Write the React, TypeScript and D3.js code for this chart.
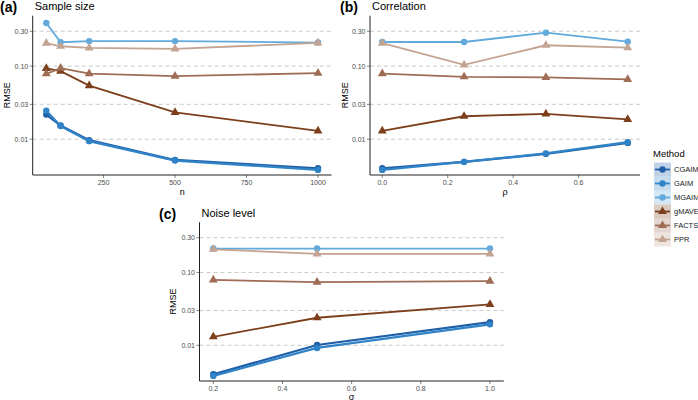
import * as d3 from "d3"

// methods and colours
const methods = ["CGAIM", "GAIM", "MGAIM", "gMAVE", "FACTS", "PPR"]
const colors = ["#1f5fa8", "#3083c6", "#62aadb", "#7d3f1b", "#9f6c55", "#c3a392"]
const shapes = ["circle", "circle", "circle", "triangle", "triangle", "triangle"]

// (a) sample size
const nValues = [50, 100, 200, 500, 1000]
const rmseN = [
  [0.0217, 0.0154, 0.0097, 0.0052, 0.004],
  [0.0246, 0.0151, 0.0094, 0.0051, 0.0038],
  [0.39, 0.212, 0.22, 0.22, 0.21],
  [0.093, 0.0855, 0.054, 0.0233, 0.013],
  [0.0785, 0.094, 0.079, 0.073, 0.08],
  [0.206, 0.187, 0.178, 0.172, 0.208],
]

// (b) correlation
const rhoValues = [0, 0.25, 0.5, 0.75]
const rmseRho = [
  [0.004, 0.0049, 0.0063, 0.0089],
  [0.0038, 0.0049, 0.0064, 0.0091],
  [0.214, 0.214, 0.287, 0.216],
  [0.013, 0.0206, 0.0222, 0.0187],
  [0.079, 0.0714, 0.07, 0.0657],
  [0.206, 0.104, 0.193, 0.179],
]

// (c) noise level
const sigmaValues = [0.2, 0.5, 1.0]
const rmseSigma = [
  [0.004, 0.0101, 0.0208],
  [0.0038, 0.0092, 0.0194],
  [0.213, 0.213, 0.213],
  [0.0131, 0.0239, 0.0365],
  [0.079, 0.0736, 0.076],
  [0.208, 0.18, 0.18],
]

const yTicks = [0.01, 0.03, 0.1, 0.3]
const yDomain = [Math.pow(10, -2.49), Math.pow(10, -0.31)]

const font = "Liberation Sans, Arial, sans-serif"

interface PanelProps {
  tag: string
  title: string
  xLabel: string
  xs: number[]
  ys: number[][]
  xTicks: number[]
  xFormat: (d: number) => string
  left: number
  right: number
  top: number
  bottom: number
  tagX: number
  yLabelX: number
  xLabelY: number
}

function Panel(p: PanelProps) {
  const ext = d3.extent(p.xs) as [number, number]
  const pad = (ext[1] - ext[0]) * 0.05
  const x = d3.scaleLinear().domain([ext[0] - pad, ext[1] + pad]).range([p.left, p.right])
  const y = d3.scaleLog().domain(yDomain).range([p.bottom, p.top])
  const line = d3.line<number>().x((_, i) => x(p.xs[i])).y((d) => y(d))
  const tri = d3.symbol().type(d3.symbolTriangle).size(34)()

  return (
    <g fontFamily={font}>
      <text x={p.tagX} y={p.top - 3.5} fontSize={14} fontWeight="bold">{p.tag}</text>
      <text x={p.left + 2} y={p.top - 5.5} fontSize={11}>{p.title}</text>
      {yTicks.map((t) => (
        <g key={t}>
          <line x1={p.left} x2={p.right} y1={y(t)} y2={y(t)} stroke="#bdbdbd" strokeDasharray="4,3" strokeWidth={0.8} />
          <line x1={p.left - 3} x2={p.left} y1={y(t)} y2={y(t)} stroke="#333" strokeWidth={0.6} />
          <text x={p.left - 4.5} y={y(t)} dy="0.35em" textAnchor="end" fontSize={7} fill="#4d4d4d">
            {d3.format(".2f")(t)}
          </text>
        </g>
      ))}
      {p.xTicks.map((t) => (
        <g key={t}>
          <line x1={x(t)} x2={x(t)} y1={p.bottom} y2={p.bottom + 3} stroke="#333" strokeWidth={0.6} />
          <text x={x(t)} y={p.bottom + 10} textAnchor="middle" fontSize={7} fill="#4d4d4d">
            {p.xFormat(t)}
          </text>
        </g>
      ))}
      {p.ys.map((series, k) => (
        <g key={methods[k]}>
          <path d={line(series) || ""} fill="none" stroke={colors[k]} strokeWidth={k < 2 ? 2.2 : 1.8} />
          {series.map((v, i) =>
            shapes[k] === "circle" ? (
              <circle key={i} cx={x(p.xs[i])} cy={y(v)} r={3.2} fill={colors[k]} />
            ) : (
              <path key={i} d={tri || ""} transform={`translate(${x(p.xs[i])},${y(v)})`} fill={colors[k]} />
            )
          )}
        </g>
      ))}
      <line x1={p.left} x2={p.left} y1={p.top} y2={p.bottom} stroke="#222" strokeWidth={1} />
      <line x1={p.left} x2={p.right} y1={p.bottom} y2={p.bottom} stroke="#222" strokeWidth={1} />
      <text x={(p.left + p.right) / 2} y={p.xLabelY} textAnchor="middle" fontSize={9}>{p.xLabel}</text>
      <text transform={`translate(${p.yLabelX},${(p.top + p.bottom) / 2}) rotate(-90)`} textAnchor="middle" fontSize={9}>
        RMSE
      </text>
    </g>
  )
}

function Legend() {
  const tri = d3.symbol().type(d3.symbolTriangle).size(34)()
  return (
    <g fontFamily={font} transform="translate(654,0)">
      <text x={-1} y={157} fontSize={9.5}>Method</text>
      {methods.map((m, k) => {
        const cy = 169.5 + k * 14
        return (
          <g key={m}>
            <rect x={0} y={cy - 7} width={17} height={14} fill={colors[k]} opacity={0.28} />
            <line x1={1} x2={16} y1={cy} y2={cy} stroke={colors[k]} strokeWidth={1.8} />
            {shapes[k] === "circle" ? (
              <circle cx={8.5} cy={cy} r={3.2} fill={colors[k]} />
            ) : (
              <path d={tri || ""} transform={`translate(8.5,${cy})`} fill={colors[k]} />
            )}
            <text x={20} y={cy} dy="0.35em" fontSize={7.5} fill="#222">{m}</text>
          </g>
        )
      })}
    </g>
  )
}

export default function App() {
  return (
    <svg width={698} height={400} style={{ position: "absolute", left: 0, top: 0, background: "#fff" }}>
      <Panel tag="(a)" title="Sample size" xLabel="n" xs={nValues} ys={rmseN} xTicks={[250, 500, 750, 1000]}
        xFormat={(d) => String(d)} left={32.7} right={331.6} top={15.7} bottom={175} tagX={0} yLabelX={9.5} xLabelY={195} />
      <Panel tag="(b)" title="Correlation" xLabel="ρ" xs={rhoValues} ys={rmseRho} xTicks={[0, 0.2, 0.4, 0.6]}
        xFormat={d3.format(".1f")} left={370} right={640} top={15.7} bottom={175} tagX={340} yLabelX={348} xLabelY={195} />
      <Panel tag="(c)" title="Noise level" xLabel="σ" xs={sigmaValues} ys={rmseSigma} xTicks={[0.2, 0.4, 0.6, 0.8, 1.0]}
        xFormat={d3.format(".1f")} left={199.5} right={503.8} top={222.2} bottom={381} tagX={159} yLabelX={176} xLabelY={399.5} />
      <Legend />
    </svg>
  )
}
